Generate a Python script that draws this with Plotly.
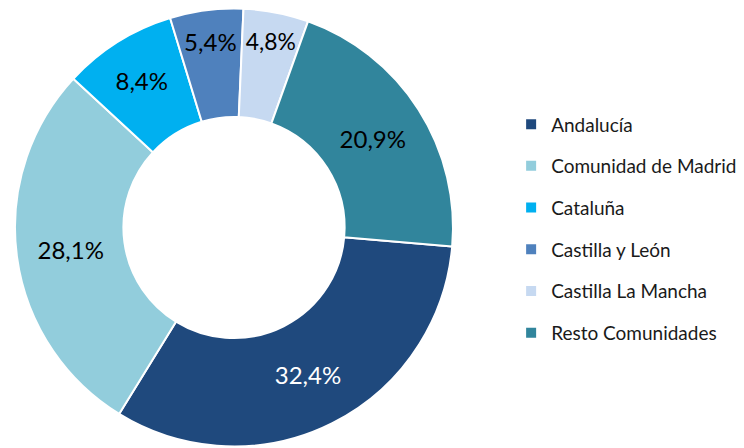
import plotly.graph_objects as go

regions = ["Andalucía", "Comunidad de Madrid", "Cataluña", "Castilla y León",
           "Castilla La Mancha", "Resto Comunidades"]
shares = [32.4, 28.1, 8.4, 5.4, 4.8, 20.9]
colors = ["#1F497D", "#92CDDC", "#00B0F0", "#4F81BD", "#C6D9F1", "#31859C"]
label_colors = ["white", "black", "black", "black", "black", "black"]
labels_txt = [f"{v:.1f}%".replace(".", ",") for v in shares]

FONT = "Lato"

fig = go.Figure()
fig.add_trace(go.Pie(
    labels=regions, values=shares, text=labels_txt, textinfo="text",
    sort=False, direction="clockwise", rotation=95, hole=0.505,
    marker=dict(colors=colors, line=dict(color="white", width=2)),
    textposition="inside", insidetextorientation="horizontal",
    insidetextfont=dict(family=FONT, size=24, color=label_colors),
    showlegend=False, hoverinfo="label+percent",
    domain=dict(x=[15/744, 453/744], y=[1 - 446.5/448, 1 - 8.5/448]),
))

for name, col in zip(regions, colors):
    fig.add_trace(go.Scatter(
        x=[None], y=[None], mode="markers", name=name, legendgroup=name,
        marker=dict(symbol="square", size=10, color=col),
    ))

fig.update_layout(
    width=744, height=448, margin=dict(l=0, r=0, t=0, b=0, autoexpand=False),
    paper_bgcolor="white", plot_bgcolor="white",
    xaxis=dict(visible=False), yaxis=dict(visible=False),
    legend=dict(x=0.687, y=0.765, xanchor="left", yanchor="top",
                font=dict(family=FONT, size=19, color="#1a1a1a"),
                tracegroupgap=14, itemwidth=30, bgcolor="rgba(0,0,0,0)"),
)
fig.write_html("out.html", config={"displayModeBar": False},
               post_script="document.body.style.margin='0';")
